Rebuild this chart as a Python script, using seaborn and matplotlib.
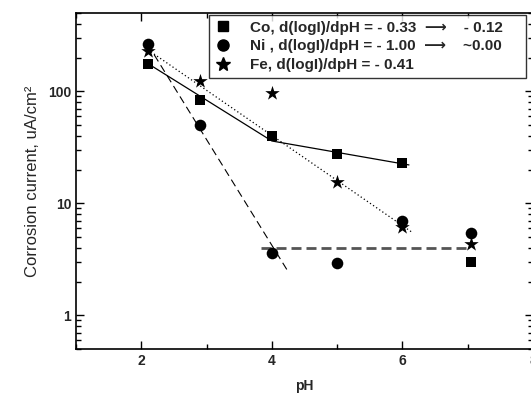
import numpy as np
import matplotlib
matplotlib.use("Agg")
import matplotlib.pyplot as plt
from matplotlib.lines import Line2D
from matplotlib.ticker import MultipleLocator, LogLocator, NullFormatter, FixedLocator
import pandas as pd
import seaborn as sns

# measured points
ph = [2.1, 2.9, 4.0, 5.0, 6.0, 7.05]
co = [177, 83, 40, 27.5, 23, 3.0]
ni = [267, 50, 3.6, 2.9, 6.9, 5.4]
fe = [227, 123, 96, 15.5, 6.2, 4.3]

# fitted lines
co_fit_x = [2.1, 4.0, 6.1]
co_fit_y = [177, 36, 22]
fe_fit_x = [2.1, 6.15]
fe_fit_y = [235, 5.5]
ni_fit_x = [2.1, 4.25]
ni_fit_y = [262, 2.45]
ni_flat_x = [3.84, 6.99]
ni_flat_y = [4.0, 4.0]

pad = "\u00a0" * 4
labels = {
    "Co": "Co, d(logI)/dpH = - 0.33  \u27f6    - 0.12" + pad,
    "Ni": "Ni , d(logI)/dpH = - 1.00  \u27f6    ~0.00" + pad,
    "Fe": "Fe, d(logI)/dpH = - 0.41",
}

sns.set_style("ticks")
plt.rcParams["font.family"] = ["Liberation Sans", "DejaVu Sans"]

df = pd.DataFrame({"pH": ph * 3,
                   "current": co + ni + fe,
                   "metal": ["Co"] * 6 + ["Ni"] * 6 + ["Fe"] * 6})

fig = plt.figure(figsize=(5.31, 4.03), dpi=100)
ax = fig.add_axes([76 / 531, 54 / 403, 457 / 531, 336 / 403])

markers = {"Co": "s", "Ni": "o", "Fe": "*"}
sizes = {"Co": 50, "Ni": 70, "Fe": 120}
for m in ["Co", "Ni", "Fe"]:
    sns.scatterplot(data=df[df.metal == m], x="pH", y="current", ax=ax,
                    marker=markers[m], s=sizes[m], color="black",
                    edgecolor="black", linewidth=0, zorder=3)

sns.lineplot(x=co_fit_x, y=co_fit_y, ax=ax, color="black", lw=0.9)
sns.lineplot(x=fe_fit_x, y=fe_fit_y, ax=ax, color="black", lw=0.9,
             linestyle=(0, (1, 2)))
sns.lineplot(x=ni_fit_x, y=ni_fit_y, ax=ax, color="black", lw=0.8,
             linestyle=(0, (7, 4)))
sns.lineplot(x=ni_flat_x, y=ni_flat_y, ax=ax, color="#555555", lw=2,
             linestyle=(0, (3.6, 1.8)))

ax.set_yscale("log")
ax.set_xlim(1, 8)
ax.set_ylim(0.5, 500)
ax.xaxis.set_major_locator(FixedLocator([2, 4, 6, 8]))
ax.xaxis.set_minor_locator(MultipleLocator(1))
ax.yaxis.set_major_locator(FixedLocator([1, 10, 100]))
ax.yaxis.set_minor_locator(LogLocator(base=10, subs=np.arange(2, 10)))
ax.yaxis.set_minor_formatter(NullFormatter())
ax.set_yticklabels(["1", "10", "100"])

ax.tick_params(which="both", direction="in", top=True, right=True,
               width=1, labelsize=10, color="black")
ax.tick_params(which="major", length=5.5)
ax.tick_params(which="minor", length=3.5)
for lab in ax.get_xticklabels() + ax.get_yticklabels():
    lab.set_fontweight("bold")
for sp in ax.spines.values():
    sp.set_linewidth(1.2)
    sp.set_color("black")

ax.set_xlabel("pH", fontsize=10, fontweight="bold", labelpad=8)
ax.set_ylabel("Corrosion current, uA/cm\u00b2", fontsize=12, labelpad=6)

handles = [Line2D([], [], ls="none", marker=markers[m], color="black",
                  markersize={"Co": 7, "Ni": 8, "Fe": 10}[m])
           for m in ["Co", "Ni", "Fe"]]
leg = ax.legend(handles, [labels[m] for m in ["Co", "Ni", "Fe"]],
                loc="upper left", bbox_to_anchor=(0.291, 0.995),
                frameon=True, fancybox=False,
                prop={"size": 11, "weight": "bold"},
                handlelength=1.0, handletextpad=1.3,
                labelspacing=0.3, borderpad=0.4, borderaxespad=0)
leg.get_frame().set_edgecolor("black")
leg.get_frame().set_linewidth(1)

fig.savefig("out.png", dpi=100)
